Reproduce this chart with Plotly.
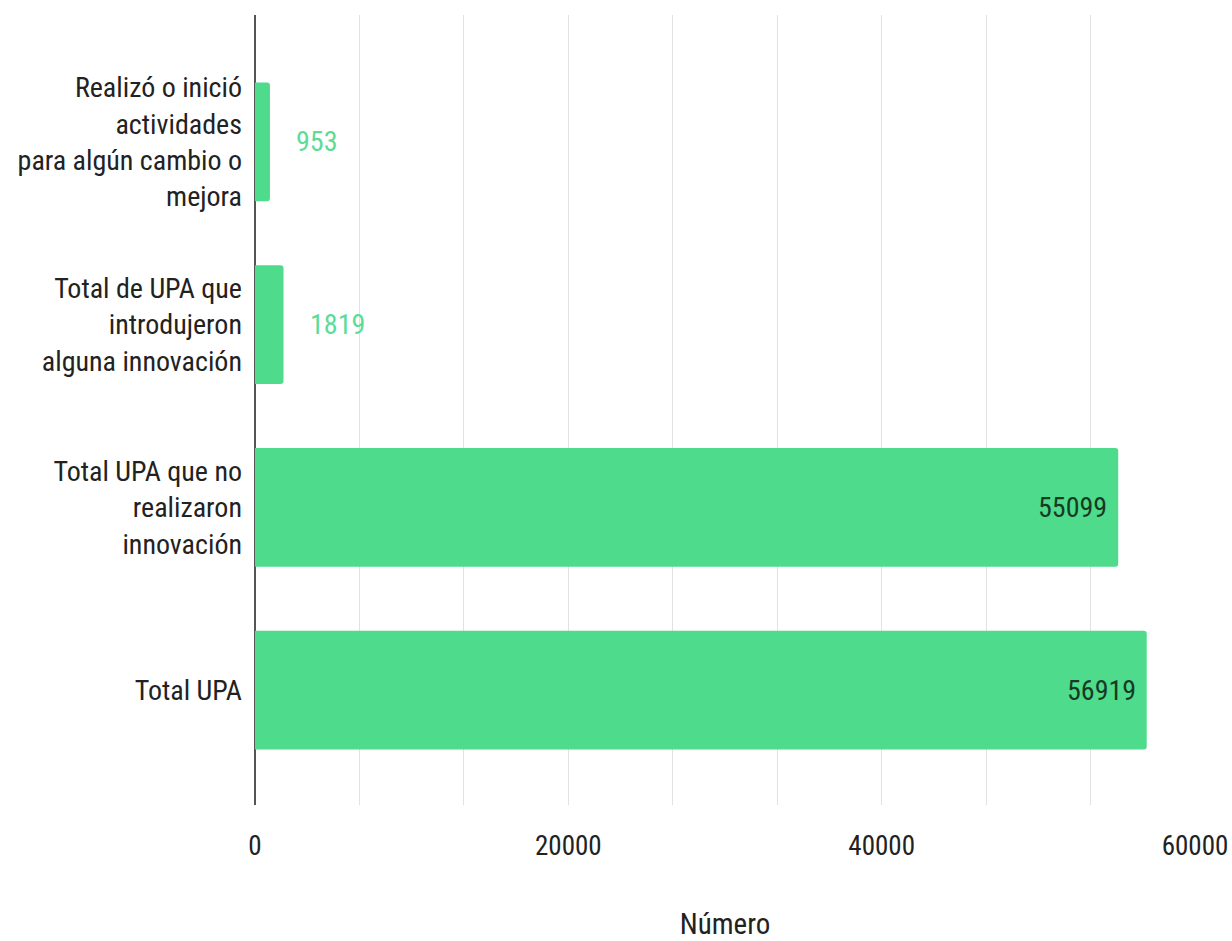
import plotly.graph_objects as go

# Data (bottom to top)
categories = [
    "Total UPA",
    "Total UPA que no<br>realizaron<br>innovación",
    "Total de UPA que<br>introdujeron<br>alguna innovación",
    "Realizó o inició<br>actividades<br>para algún cambio o<br>mejora",
]
values = [56919, 55099, 1819, 953]
x_ticks = [0, 20000, 40000, 60000]
x_tick_labels = ["0", "20000", "40000", "60000"]
x_title = "Número"

FONT = "Roboto Condensed, Liberation Sans Narrow, Arial Narrow, Roboto, sans-serif"
BAR = "#4edb8b"

fig = go.Figure()
fig.add_trace(go.Bar(
    y=categories,
    x=values,
    orientation="h",
    marker=dict(color=BAR, line=dict(width=0)),
    width=0.65,
    hoverinfo="skip",
))

annotations = []
for c, v in zip(categories, values):
    if v > 20000:
        annotations.append(dict(x=v, y=c, xref="x", yref="y", text=str(v),
                                showarrow=False, xanchor="right", xshift=-9,
                                font=dict(family=FONT, size=28, color="#173a26")))
    else:
        annotations.append(dict(x=v, y=c, xref="x", yref="y", text=str(v),
                                showarrow=False, xanchor="left", xshift=24,
                                font=dict(family=FONT, size=28, color="#5cdc98")))

fig.update_layout(
    width=1232, height=941,
    margin=dict(l=255, r=37, t=15, b=136, autoexpand=False),
    paper_bgcolor="white", plot_bgcolor="white",
    showlegend=False,
    barcornerradius=3,
    font=dict(family=FONT, size=28, color="#222222"),
    annotations=annotations,
    xaxis=dict(
        range=[0, 60000],
        automargin=False,
        tickvals=x_ticks, ticktext=x_tick_labels,
        showgrid=True, gridcolor="#e2e2e2", gridwidth=1,
        minor=dict(dtick=20000 / 3, showgrid=True, gridcolor="#e2e2e2", gridwidth=1),
        zeroline=True, zerolinecolor="#555555", zerolinewidth=2,
        showline=False,
        ticks="", ticklabelstandoff=22,
        tickfont=dict(family=FONT, size=27, color="#222222"),
        title=dict(text=x_title, standoff=52, font=dict(family=FONT, size=29, color="#222222")),
        fixedrange=True,
    ),
    yaxis=dict(
        type="category",
        automargin=False,
        categoryorder="array", categoryarray=categories,
        range=[-0.629, 3.695],
        showgrid=False, zeroline=False, showline=False,
        ticks="", ticklabelstandoff=12,
        tickfont=dict(family=FONT, size=28, color="#222222"),
        fixedrange=True,
    ),
)

fig.write_html(
    "out.html",
    config={"displayModeBar": False},
    post_script="document.body.style.margin='0';document.body.style.overflow='hidden';",
)
